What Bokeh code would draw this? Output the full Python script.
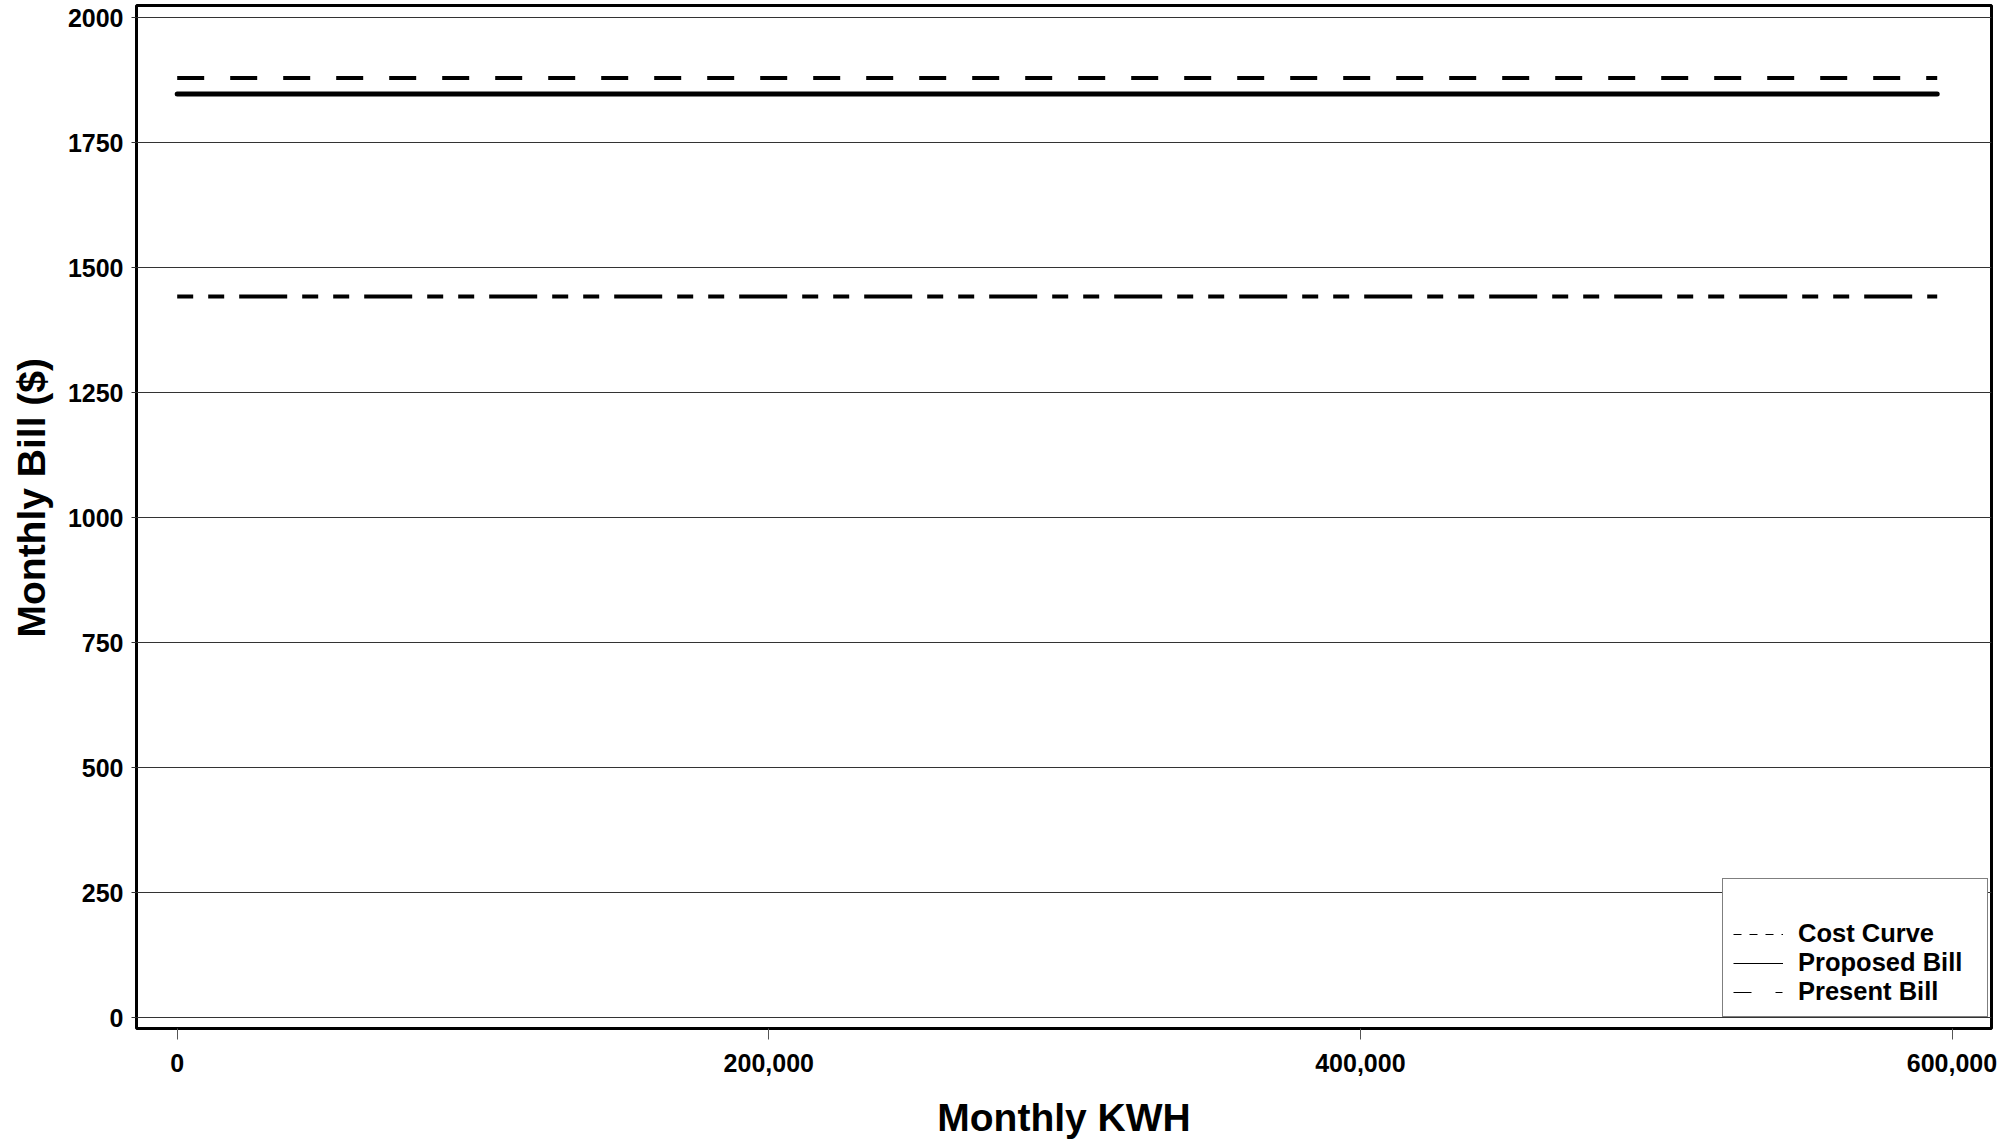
from bokeh.plotting import figure
from bokeh.models import (Range1d, FixedTicker, NumeralTickFormatter, Legend,
                          LegendItem, Title)
from bokeh.embed import file_html
from bokeh.resources import INLINE

# ---- data ----
kwh = [0, 595000]
cost_curve = [1879, 1879]
proposed_bill = [1847, 1847]
present_bill = [1442, 1442]
series_names = ["Cost Curve", "Proposed Bill", "Present Bill"]
x_ticks = [0, 200000, 400000, 600000]
y_ticks = [0, 250, 500, 750, 1000, 1250, 1500, 1750, 2000]
x_title = "Monthly KWH"
y_title = "Monthly Bill ($)"

FONT = "Liberation Sans"
NAN = float("nan")

p = figure(width=2000, height=1142, output_backend="svg", toolbar_location=None,
           x_range=Range1d(-13760, 613353), y_range=Range1d(-22, 2024),
           min_border_left=136, min_border_right=9, min_border_top=5,
           min_border_bottom=114,
           background_fill_color="white", border_fill_color="white")

p.outline_line_color = "black"
p.outline_line_width = 3

# x axis
p.xaxis.ticker = FixedTicker(ticks=x_ticks)
p.xaxis.formatter = NumeralTickFormatter(format="0,0")
p.xaxis.axis_line_color = None
p.xaxis.major_tick_out = 11
p.xaxis.major_tick_in = 0
p.xaxis.major_tick_line_color = "#555555"
p.xaxis.minor_tick_line_color = None
p.xaxis.major_label_text_font = FONT
p.xaxis.major_label_text_font_size = "25px"
p.xaxis.major_label_text_font_style = "bold"
p.xaxis.major_label_text_color = "black"
p.xaxis.major_label_standoff = 14
p.xaxis.axis_label = x_title
p.xaxis.axis_label_text_font = FONT
p.xaxis.axis_label_text_font_size = "39px"
p.xaxis.axis_label_text_font_style = "bold"
p.xaxis.axis_label_text_color = "black"
p.xaxis.axis_label_standoff = 21

# y axis
p.yaxis.ticker = FixedTicker(ticks=y_ticks)
p.yaxis.formatter = NumeralTickFormatter(format="0")
p.yaxis.axis_line_color = None
p.yaxis.major_tick_out = 5
p.yaxis.major_tick_in = 0
p.yaxis.major_tick_line_color = "#333333"
p.yaxis.minor_tick_line_color = None
p.yaxis.major_label_text_font = FONT
p.yaxis.major_label_text_font_size = "25px"
p.yaxis.major_label_text_font_style = "bold"
p.yaxis.major_label_text_color = "black"
p.yaxis.major_label_standoff = 8

p.xgrid.grid_line_color = None
p.ygrid.ticker = FixedTicker(ticks=y_ticks)
p.ygrid.grid_line_color = "#333333"
p.ygrid.grid_line_width = 1

# data lines
p.line(kwh, cost_curve, line_color="black", line_width=4, line_dash="27 26")
p.line(kwh, proposed_bill, line_color="black", line_width=5, line_cap="round")
p.line(kwh, present_bill, line_color="black", line_width=4,
       line_dash="16 15 16 15 48 15")

# thin legend samples (not drawn in the plot area)
hidden = [NAN] * len(kwh)
l_cost = p.line(kwh, hidden, line_color="black", line_width=1, line_dash="8 8")
l_prop = p.line(kwh, hidden, line_color="black", line_width=1)
l_pres = p.line(kwh, hidden, line_color="black", line_width=1,
                line_dash="18 24 7 24")

legend = Legend(
    items=[LegendItem(label=series_names[0], renderers=[l_cost]),
           LegendItem(label=series_names[1], renderers=[l_prop]),
           LegendItem(label=series_names[2], renderers=[l_pres])],
    location=(1586, 11), padding=10, spacing=0, margin=0,
    glyph_width=50, glyph_height=20, label_standoff=15,
    label_width=179, label_height=20,
    label_text_font=FONT, label_text_font_size="25.5px",
    label_text_font_style="bold", label_text_color="black",
    border_line_color="black", border_line_width=1,
    background_fill_color="white", background_fill_alpha=1,
    title=" ", title_text_font_size="24px", title_standoff=2,
)
p.add_layout(legend)

ytitle = Title(text=y_title, align="left", offset=391, vertical_align="top",
               standoff=19, text_font=FONT, text_font_size="39px",
               text_font_style="bold", text_color="black")
p.add_layout(ytitle, "left")

open("out.html", "w").write(file_html(p, INLINE))
